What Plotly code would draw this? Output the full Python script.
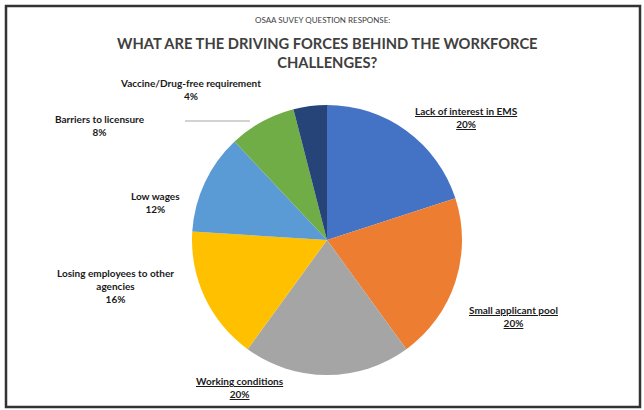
import plotly.graph_objects as go

# Survey responses
categories = [
    "Lack of interest in EMS",
    "Small applicant pool",
    "Working conditions",
    "Losing employees to other<br>agencies",
    "Low wages",
    "Barriers to licensure",
    "Vaccine/Drug-free requirement",
]
shares = [20, 20, 20, 16, 12, 8, 4]
colors = ["#4472C4", "#ED7D31", "#A5A5A5", "#FFC000", "#5B9BD5", "#70AD47", "#264478"]
underlined = [True, True, True, False, False, False, False]

W, H = 644, 410
cx, cy, r = 327, 240, 135

fig = go.Figure(
    go.Pie(
        labels=[c.replace("<br>", " ") for c in categories],
        values=shares,
        sort=False,
        direction="clockwise",
        rotation=0,
        marker=dict(colors=colors, line=dict(width=0)),
        textinfo="none",
        hoverinfo="label+percent",
        domain=dict(x=[(cx - r) / W, (cx + r) / W], y=[(H - cy - r) / H, (H - cy + r) / H]),
        showlegend=False,
    )
)

# label anchor points (pixel centres of each label block)
label_pos = [(467, 117), (513, 316), (240, 387), (115, 286), (155, 202), (100, 125), (190, 90)]

annotations = []
for name, val, ul, (x, y) in zip(categories, shares, underlined, label_pos):
    txt = f"{name}<br>{val}%"
    if ul:
        txt = f"<u>{name}</u><br><u>{val}%</u>"
    annotations.append(dict(
        x=x / W, y=1 - y / H, xref="paper", yref="paper",
        text=f"<b>{txt}</b>", showarrow=False, align="center",
        font=dict(family="Lato", size=10, color="#1a1a1a"),
        xanchor="center", yanchor="middle",
    ))

annotations.append(dict(
    x=322 / W, y=1 - 20 / H, xref="paper", yref="paper",
    text="OSAA SUVEY QUESTION RESPONSE:", showarrow=False,
    font=dict(family="Lato", size=8, color="#404040"),
    xanchor="center", yanchor="middle",
))
annotations.append(dict(
    x=327 / W, y=1 - 52 / H, xref="paper", yref="paper",
    text="<b>WHAT ARE THE DRIVING FORCES BEHIND THE WORKFORCE<br>CHALLENGES?</b>",
    showarrow=False, align="center",
    font=dict(family="Lato", size=14.7, color="#404040"),
    xanchor="center", yanchor="middle",
))

shapes = [
    # outer frame
    dict(type="rect", xref="paper", yref="paper",
         x0=6 / W, x1=640 / W, y0=1 - 407 / H, y1=1 - 6 / H,
         line=dict(color="#333333", width=2.5)),
    # leader line for licensure label
    dict(type="line", xref="paper", yref="paper",
         x0=185 / W, x1=250 / W, y0=1 - 121 / H, y1=1 - 121 / H,
         line=dict(color="#A6A6A6", width=1)),
]

fig.update_layout(
    width=W, height=H,
    margin=dict(l=0, r=0, t=0, b=0),
    paper_bgcolor="white",
    plot_bgcolor="white",
    annotations=annotations,
    shapes=shapes,
)

fig.write_html("out.html")
